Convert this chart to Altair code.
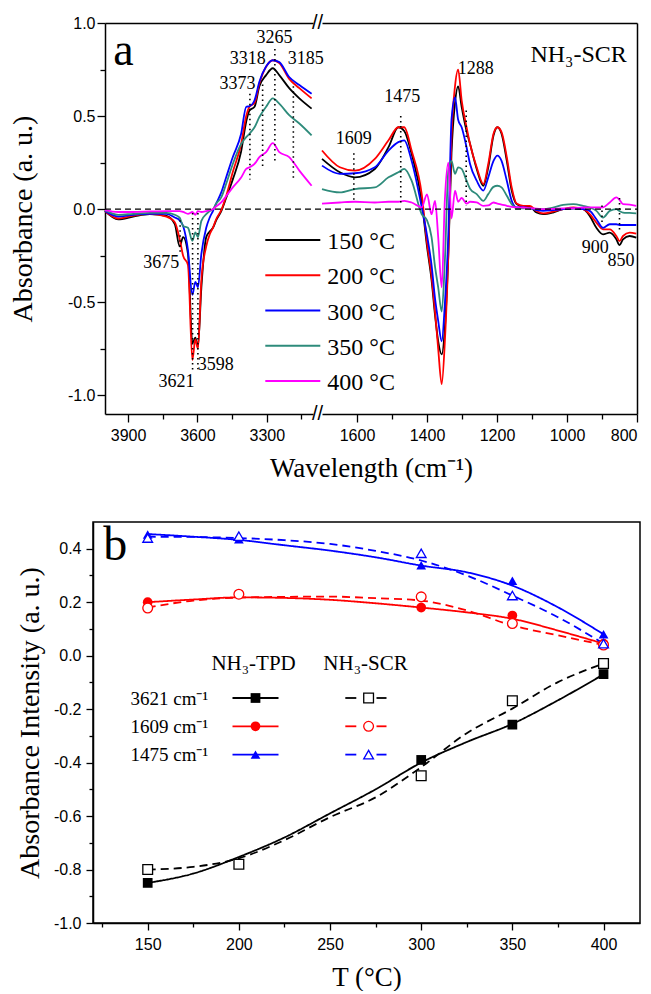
import altair as alt
import pandas as pd

SERIF = "Liberation Serif, Times New Roman, Times, serif"
SANS = "Liberation Sans, Arial, Helvetica, sans-serif"
FIX_MINUS = "replace(format(datum.value, '.1f'), '\u2212', '-')"

# ============================ panel a data ============================
temps = ["150 °C", "200 °C", "300 °C", "350 °C", "400 °C"]
temp_colors = ["#000000", "#ff0000", "#0000ff", "#2e8b7b", "#ff00ff"]

wn_high = [4000, 3943, 3878, 3806, 3734, 3698, 3677, 3662, 3641, 3622,
           3609, 3598, 3583, 3562, 3547, 3533, 3519, 3497, 3476, 3447,
           3411, 3389, 3375, 3353, 3332, 3303, 3274, 3246, 3203, 3159, 3106]
a150_high = [-0.01, -0.054, -0.04, -0.027, -0.036, -0.08, -0.20, -0.15, -0.24, -0.72,
             -0.69, -0.74, -0.42, -0.15, -0.12, -0.10, -0.06, -0.01, 0.06, 0.16,
             0.31, 0.47, 0.53, 0.55, 0.66, 0.72, 0.757, 0.72, 0.65, 0.595, 0.54]
a200_high = [-0.01, -0.05, -0.035, -0.025, -0.04, -0.07, -0.16, -0.25, -0.30, -0.81,
             -0.70, -0.75, -0.38, -0.20, -0.135, -0.10, -0.054, -0.005, 0.07, 0.20,
             0.35, 0.50, 0.55, 0.57, 0.675, 0.765, 0.80, 0.785, 0.70, 0.65, 0.595]
a300_high = [-0.01, -0.04, -0.03, -0.025, -0.025, -0.045, -0.06, -0.09, -0.22, -0.46,
             -0.39, -0.42, -0.24, -0.10, -0.045, -0.01, 0.03, 0.09, 0.17, 0.28,
             0.405, 0.55, 0.553, 0.585, 0.685, 0.766, 0.80, 0.79, 0.71, 0.667, 0.62]
a350_high = [-0.005, -0.03, -0.025, -0.02, -0.02, -0.03, -0.045, -0.09, -0.10, -0.17,
             -0.125, -0.15, -0.063, -0.027, -0.01, 0.0, 0.03, 0.063, 0.135, 0.243,
             0.35, 0.387, 0.405, 0.44, 0.495, 0.55, 0.595, 0.567, 0.505, 0.46, 0.396]
a400_high = [-0.005, -0.015, -0.015, -0.012, -0.01, -0.01, -0.01, -0.015, -0.025, -0.015,
             -0.03, -0.01, -0.015, -0.01, -0.005, 0.0, 0.015, 0.036, 0.07, 0.117,
             0.17, 0.216, 0.225, 0.243, 0.28, 0.306, 0.355, 0.306, 0.28, 0.207, 0.126]

wn_low = [1700, 1649, 1606, 1549, 1510, 1482, 1465, 1444, 1415, 1400,
          1387, 1377, 1368, 1358, 1349, 1339, 1330, 1320, 1311, 1301,
          1287, 1277, 1258, 1239, 1225, 1210, 1199, 1187, 1172, 1158,
          1144, 1125, 1106, 1087, 1068, 1040, 1011, 982, 954, 935,
          916, 897, 878, 859, 850, 840, 821, 802]
a150_low = [0.27, 0.198, 0.171, 0.216, 0.333, 0.44, 0.42, 0.297, 0.04, -0.20,
            -0.38, -0.57, -0.71, -0.78, -0.64, -0.24, 0.30, 0.57, 0.66, 0.55,
            0.42, 0.35, 0.216, 0.126, 0.225, 0.396, 0.44, 0.405, 0.26, 0.10,
            0.027, 0.013, 0.012, -0.018, -0.027, -0.018, 0.0, 0.005, 0.0, -0.036,
            -0.10, -0.135, -0.126, -0.162, -0.193, -0.162, -0.144, -0.153]
a200_low = [0.315, 0.225, 0.207, 0.27, 0.37, 0.44, 0.44, 0.315, 0.08, -0.18,
            -0.36, -0.55, -0.75, -0.94, -0.71, -0.24, 0.39, 0.66, 0.75, 0.585,
            0.44, 0.35, 0.225, 0.135, 0.243, 0.405, 0.44, 0.414, 0.28, 0.117,
            0.03, 0.018, 0.018, -0.01, -0.023, -0.013, 0.0, 0.009, 0.0, -0.027,
            -0.072, -0.108, -0.108, -0.144, -0.171, -0.144, -0.126, -0.131]
a300_low = [0.234, 0.19, 0.193, 0.225, 0.315, 0.36, 0.37, 0.26, 0.01, -0.14,
            -0.30, -0.48, -0.60, -0.71, -0.51, -0.135, 0.48, 0.60, 0.48, 0.44,
            0.333, 0.243, 0.153, 0.10, 0.171, 0.26, 0.288, 0.26, 0.153, 0.045,
            0.009, 0.009, 0.005, -0.005, -0.009, -0.005, 0.0, 0.005, 0.0, -0.009,
            -0.054, -0.10, -0.081, -0.081, -0.085, -0.085, -0.085, -0.085]
a350_low = [0.108, 0.09, 0.108, 0.117, 0.171, 0.198, 0.216, 0.153, -0.027, -0.06,
            -0.15, -0.31, -0.42, -0.55, -0.28, 0.207, 0.26, 0.19, 0.225, 0.216,
            0.153, 0.11, 0.081, 0.045, 0.081, 0.12, 0.126, 0.117, 0.072, 0.027,
            0.005, 0.005, 0.005, 0.0, 0.0, 0.009, 0.023, 0.027, 0.018, 0.009,
            -0.009, -0.045, -0.009, 0.0, -0.01, -0.018, -0.02, -0.023]
a400_low = [0.03, 0.036, 0.04, 0.036, 0.04, 0.04, 0.045, 0.036, 0.01, 0.08,
            -0.027, 0.045, -0.15, -0.42, 0.05, 0.25, -0.05, 0.10, 0.04, 0.06,
            0.03, 0.04, 0.036, 0.018, 0.02, 0.036, 0.03, 0.025, 0.018, 0.012,
            0.01, 0.009, 0.005, 0.003, 0.0, 0.002, 0.004, 0.006, 0.009, 0.01,
            0.009, 0.01, 0.036, 0.063, 0.05, 0.027, 0.025, 0.018]

# dotted peak markers and their labels
peak_high_wn = [3675, 3621, 3598, 3373, 3318, 3265, 3185]
peak_high_top = [-0.06, -0.02, -0.02, 0.62, 0.67, 0.86, 0.66]
peak_high_bot = [-0.23, -0.87, -0.86, 0.16, 0.225, 0.25, 0.153]
peak_low_wn = [1609, 1475, 1288, 900, 850]
peak_low_top = [0.30, 0.50, 0.53, 0.02, 0.06]
peak_low_bot = [0.045, 0.036, 0.018, -0.07, -0.125]

label_high_text = ["3675", "3621", "3598", "3373", "3318", "3265", "3185"]
label_high_wn = [3757, 3691, 3521, 3427, 3382, 3267, 3131]
label_high_abs = [-0.29, -0.93, -0.836, 0.67, 0.805, 0.919, 0.805]
label_low_text = ["1609", "1475", "1288", "900", "850"]
label_low_wn = [1609, 1471, 1261, 919, 846]
label_low_abs = [0.378, 0.60, 0.755, -0.21, -0.28]

# ============================ panel b data ============================
bands = ["3621 cm⁻¹", "1609 cm⁻¹", "1475 cm⁻¹"]
band_colors = ["#000000", "#ff0000", "#0000ff"]
band_shapes = ["square", "circle", "triangle-up"]
methods = ["NH₃-TPD", "NH₃-SCR"]

T_obs = [150, 200, 300, 350, 400]
tpd_3621 = [-0.85, None, -0.39, -0.258, -0.069]
tpd_1609 = [0.20, None, 0.18, 0.15, 0.045]
tpd_1475 = [0.453, 0.435, 0.338, 0.28, 0.08]
scr_3621 = [-0.80, -0.78, -0.449, -0.169, -0.029]
scr_1609 = [0.178, 0.23, 0.22, 0.12, 0.04]
scr_1475 = [0.44, 0.447, 0.383, 0.225, 0.045]

T_fit = [150, 175, 200, 225, 250, 275, 300, 325, 350, 375, 400]
fit_tpd_3621 = [-0.85, -0.815, -0.753, -0.68, -0.59, -0.50, -0.40, -0.323, -0.255, -0.167, -0.07]
fit_scr_3621 = [-0.80, -0.79, -0.758, -0.69, -0.604, -0.53, -0.417, -0.29, -0.198, -0.099, -0.03]
fit_tpd_1609 = [0.20, 0.21, 0.218, 0.216, 0.209, 0.196, 0.18, 0.162, 0.138, 0.094, 0.045]
fit_scr_1609 = [0.18, 0.206, 0.217, 0.22, 0.221, 0.215, 0.206, 0.169, 0.113, 0.076, 0.04]
fit_tpd_1475 = [0.455, 0.445, 0.433, 0.413, 0.393, 0.368, 0.337, 0.312, 0.262, 0.181, 0.08]
fit_scr_1475 = [0.445, 0.444, 0.44, 0.432, 0.418, 0.392, 0.356, 0.30, 0.225, 0.144, 0.045]

# ============================ tables ============================
def spectra_table(wn, columns):
    rows = []
    for t, vals in zip(temps, columns):
        assert len(vals) == len(wn)
        rows += [{"wn": w, "A": v, "T": t} for w, v in zip(wn, vals)]
    return pd.DataFrame(rows)

df_high = spectra_table(wn_high, [a150_high, a200_high, a300_high, a350_high, a400_high])
df_low = spectra_table(wn_low, [a150_low, a200_low, a300_low, a350_low, a400_low])
df_pk_high = pd.DataFrame({"wn": peak_high_wn, "top": peak_high_top, "bot": peak_high_bot})
df_pk_low = pd.DataFrame({"wn": peak_low_wn, "top": peak_low_top, "bot": peak_low_bot})
df_lb_high = pd.DataFrame({"wn": label_high_wn, "A": label_high_abs, "txt": label_high_text})
df_lb_low = pd.DataFrame({"wn": label_low_wn, "A": label_low_abs, "txt": label_low_text})
df_zero = pd.DataFrame({"z": [0.0]})
one = pd.DataFrame({"k": [0]})

obs = {("NH₃-TPD", 0): tpd_3621, ("NH₃-TPD", 1): tpd_1609, ("NH₃-TPD", 2): tpd_1475,
       ("NH₃-SCR", 0): scr_3621, ("NH₃-SCR", 1): scr_1609, ("NH₃-SCR", 2): scr_1475}
fits = {("NH₃-TPD", 0): fit_tpd_3621, ("NH₃-TPD", 1): fit_tpd_1609, ("NH₃-TPD", 2): fit_tpd_1475,
        ("NH₃-SCR", 0): fit_scr_3621, ("NH₃-SCR", 1): fit_scr_1609, ("NH₃-SCR", 2): fit_scr_1475}
obs_rows, fit_rows = [], []
for (m, i), vals in obs.items():
    obs_rows += [{"T": t, "val": v, "band": bands[i], "method": m}
                 for t, v in zip(T_obs, vals) if v is not None]
for (m, i), vals in fits.items():
    fit_rows += [{"T": t, "val": v, "band": bands[i], "method": m, "key": m + bands[i]}
                 for t, v in zip(T_fit, vals)]
df_obs = pd.DataFrame(obs_rows)
df_fit = pd.DataFrame(fit_rows)

# ============================ helpers ============================
def txt(s, x, y, size, align="center", baseline="alphabetic", font=SERIF):
    return alt.Chart(one).mark_text(text=s, font=font, fontSize=size, align=align,
                                    baseline=baseline, color="black").encode(
        x=alt.value(x), y=alt.value(y))

def hrule(x1, x2, y, color, dash=None, width=1.8):
    kw = dict(color=color, strokeWidth=width)
    if dash:
        kw["strokeDash"] = dash
    return alt.Chart(one).mark_rule(**kw).encode(x=alt.value(x1), x2=alt.value(x2), y=alt.value(y))

def sym(x, y, shape, color, filled):
    if filled:
        m = alt.Chart(one).mark_point(shape=shape, filled=True, color=color, size=95, opacity=1)
    else:
        m = alt.Chart(one).mark_point(shape=shape, filled=False, color=color, fill="white",
                                      size=95, strokeWidth=1.3, opacity=1)
    return m.encode(x=alt.value(x), y=alt.value(y))

def minor_axis(orient, values, size=5, offset=0):
    return alt.Axis(orient=orient, values=values, tickSize=size, labels=False, domain=False,
                    title=None, grid=False, offset=offset)

def frame_axis(orient):
    return alt.Axis(orient=orient, ticks=False, labels=False, domain=True, title=None, grid=False)

# ============================ panel a ============================
WA, HA = 544, 391
X0L, X1L, X0R, X1R = 12, 220, 229, 544      # pixel ranges of the two axis segments
ys_a = alt.Scale(domain=[-1.1, 1.0], nice=False, zero=False)
xs_high = alt.Scale(domain=[4000, 3100], range=[X0L, X1L], nice=False, zero=False)
xs_low = alt.Scale(domain=[1700, 800], range=[X0R, X1R], nice=False, zero=False)
color_a = alt.Scale(domain=temps, range=temp_colors)

lines_high = alt.Chart(df_high).mark_line(strokeWidth=1.8, interpolate="monotone").encode(
    x=alt.X("wn:Q", scale=xs_high,
            axis=alt.Axis(orient="bottom", values=[3900, 3600, 3300], format="d", tickSize=8,
                          labelFont=SANS, labelFontSize=16, labelPadding=5, grid=False,
                          title="Wavelength (cm⁻¹)", titleFont=SERIF, titleFontSize=27,
                          titleFontWeight="normal", titleX=278, titleY=62,
                          titleBaseline="alphabetic", titleAlign="center")),
    y=alt.Y("A:Q", scale=ys_a,
            axis=alt.Axis(orient="left", offset=-X0L, values=[-1.0, -0.5, 0.0, 0.5, 1.0],
                          labelExpr=FIX_MINUS, tickSize=8, labelFont=SANS, labelFontSize=16,
                          labelPadding=2, grid=False,
                          title="Absorbance (a. u.)", titleFont=SERIF, titleFontSize=28,
                          titleFontWeight="normal", titleX=-82, titleY=HA / 2, titleAngle=270,
                          titleBaseline="middle", titleAlign="center")),
    color=alt.Color("T:N", scale=color_a, sort=temps, legend=None),
)
lines_low = alt.Chart(df_low).mark_line(strokeWidth=1.8, interpolate="monotone").encode(
    x=alt.X("wn:Q", scale=xs_low,
            axis=alt.Axis(orient="bottom", values=[1600, 1400, 1200, 1000, 800], format="d",
                          tickSize=8, labelFont=SANS, labelFontSize=16, labelPadding=5,
                          grid=False, title=None)),
    y=alt.Y("A:Q", scale=ys_a, axis=None),
    color=alt.Color("T:N", scale=color_a, sort=temps, legend=None),
)
minor_high = alt.Chart(df_high).mark_line(opacity=0).encode(
    x=alt.X("wn:Q", scale=xs_high, axis=minor_axis("bottom", [3750, 3450, 3150])),
    y=alt.Y("A:Q", scale=ys_a, axis=minor_axis("left", [-0.75, -0.25, 0.25, 0.75], offset=-X0L)),
)
minor_low = alt.Chart(df_low).mark_line(opacity=0).encode(
    x=alt.X("wn:Q", scale=xs_low, axis=minor_axis("bottom", [1500, 1300, 1100, 900])),
    y=alt.Y("A:Q", scale=ys_a, axis=frame_axis("right")),
)
top_high = alt.Chart(df_high).mark_line(opacity=0).encode(
    x=alt.X("wn:Q", scale=xs_high, axis=frame_axis("top")),
    y=alt.Y("A:Q", scale=ys_a, axis=None),
)
top_low = alt.Chart(df_low).mark_line(opacity=0).encode(
    x=alt.X("wn:Q", scale=xs_low, axis=frame_axis("top")),
    y=alt.Y("A:Q", scale=ys_a, axis=None),
)
zero_a = alt.Chart(df_zero).mark_rule(color="black", strokeWidth=1.3, strokeDash=[6, 4]).encode(
    y=alt.Y("z:Q", scale=ys_a, axis=None), x=alt.value(X0L), x2=alt.value(X1R))

def peak_layers(pk, lb, xs):
    dots = alt.Chart(pk).mark_rule(color="black", strokeWidth=1.6, strokeDash=[1.5, 3.5]).encode(
        x=alt.X("wn:Q", scale=xs, axis=None),
        y=alt.Y("top:Q", scale=ys_a, axis=None), y2="bot:Q")
    labels = alt.Chart(lb).mark_text(font=SERIF, fontSize=18, color="black", baseline="middle").encode(
        x=alt.X("wn:Q", scale=xs, axis=None),
        y=alt.Y("A:Q", scale=ys_a, axis=None), text="txt:N")
    return [dots, labels]

a_layers = [lines_high, lines_low, minor_high, minor_low, top_high, top_low, zero_a]
a_layers += peak_layers(df_pk_high, df_lb_high, xs_high)
a_layers += peak_layers(df_pk_low, df_lb_low, xs_low)
a_layers += [txt("a", 30.5, 42, 46),
             txt("NH₃-SCR", 485.6, 38.7, 24),
             txt("//", (X1L + X0R) / 2, 0, 20, baseline="middle", font=SANS),
             txt("//", (X1L + X0R) / 2, HA, 20, baseline="middle", font=SANS)]
# temperature legend
for i, (t, c) in enumerate(zip(temps, temp_colors)):
    yy = 217 + 35.25 * i
    a_layers += [hrule(172.3, 227.3, yy, c, width=2.2), txt(t, 234.3, yy + 9, 24, align="left")]

panel_a = alt.layer(*a_layers).resolve_scale(x="independent").resolve_axis(
    x="independent", y="independent").properties(
    width=WA, height=HA, view=alt.ViewBackground(strokeOpacity=0))

# ============================ panel b ============================
WB, HB = 547, 401
xs_b = alt.Scale(domain=[120, 420], nice=False, zero=False)
ys_b = alt.Scale(domain=[-1.0, 0.5], nice=False, zero=False)
color_b = alt.Scale(domain=bands, range=band_colors)
shape_b = alt.Scale(domain=bands, range=band_shapes)

curves = alt.Chart(df_fit).mark_line(strokeWidth=1.8, interpolate="monotone").encode(
    x=alt.X("T:Q", scale=xs_b,
            axis=alt.Axis(values=[150, 200, 250, 300, 350, 400], format="d", tickSize=7,
                          labelFont=SANS, labelFontSize=16, labelPadding=6, grid=False,
                          title="T (°C)", titleFont=SERIF, titleFontSize=27, titleFontWeight="normal",
                          titleX=WB / 2, titleY=62, titleBaseline="alphabetic", titleAlign="center")),
    y=alt.Y("val:Q", scale=ys_b,
            axis=alt.Axis(values=[-1.0, -0.8, -0.6, -0.4, -0.2, 0.0, 0.2, 0.4], labelExpr=FIX_MINUS,
                          tickSize=7, labelFont=SANS, labelFontSize=16, labelPadding=5, grid=False,
                          title="Absorbance Intensity (a. u.)", titleFont=SERIF, titleFontSize=28,
                          titleFontWeight="normal", titleX=-63, titleY=HB / 2, titleAngle=270,
                          titleBaseline="middle", titleAlign="center")),
    color=alt.Color("band:N", scale=color_b, legend=None),
    strokeDash=alt.StrokeDash("method:N", scale=alt.Scale(domain=methods, range=[[1, 0], [8, 5]]),
                              legend=None),
    detail="key:N",
)
minor_b = alt.Chart(df_fit).mark_line(opacity=0).encode(
    x=alt.X("T:Q", scale=xs_b, axis=minor_axis("bottom", [125, 175, 225, 275, 325, 375], 4)),
    y=alt.Y("val:Q", scale=ys_b, axis=minor_axis("left", [-0.9, -0.7, -0.5, -0.3, -0.1, 0.1, 0.3], 4)),
    detail="key:N",
)
pts_tpd = alt.Chart(df_obs[df_obs["method"] == "NH₃-TPD"]).mark_point(
    filled=True, size=95, opacity=1).encode(
    x=alt.X("T:Q", scale=xs_b, axis=None), y=alt.Y("val:Q", scale=ys_b, axis=None),
    color=alt.Color("band:N", scale=color_b, legend=None),
    shape=alt.Shape("band:N", scale=shape_b, legend=None))
pts_scr = alt.Chart(df_obs[df_obs["method"] == "NH₃-SCR"]).mark_point(
    filled=False, fill="white", size=95, strokeWidth=1.3, opacity=1).encode(
    x=alt.X("T:Q", scale=xs_b, axis=None), y=alt.Y("val:Q", scale=ys_b, axis=None),
    color=alt.Color("band:N", scale=color_b, legend=None),
    shape=alt.Shape("band:N", scale=shape_b, legend=None))

b_layers = [curves, minor_b, pts_tpd, pts_scr, txt("b", 22.3, 38.3, 48),
            txt(methods[0], 160.6, 148, 21), txt(methods[1], 272.5, 148, 21)]
for i in range(3):
    yy = 176 + 28.3 * i
    b_layers += [
        txt(bands[i], 37.5, yy + 6.5, 19, align="left"),
        hrule(139.5, 185.5, yy, band_colors[i]),
        sym(162.5, yy, band_shapes[i], band_colors[i], True),
        hrule(252.3, 263.3, yy, band_colors[i]),
        hrule(283.5, 293.5, yy, band_colors[i]),
        sym(275.6, yy, band_shapes[i], band_colors[i], False),
    ]
panel_b = alt.layer(*b_layers).resolve_axis(x="independent", y="independent").properties(
    width=WB, height=HB, view=alt.ViewBackground(stroke="black", strokeWidth=1.5))

# ============================ assemble ============================
chart = alt.vconcat(panel_a, panel_b, spacing=108, bounds="flush").resolve_scale(
    color="independent", shape="independent", strokeDash="independent"
).properties(
    padding={"left": 1, "top": 5, "right": 0, "bottom": 0}, background="white"
).configure_axis(
    domainColor="black", tickColor="black", labelColor="black", titleColor="black",
    domainWidth=1.5, tickWidth=1.3, grid=False
).configure_view(stroke="black", strokeWidth=1.5)

chart.save("out.html", embed_options={"renderer": "svg", "actions": False})
